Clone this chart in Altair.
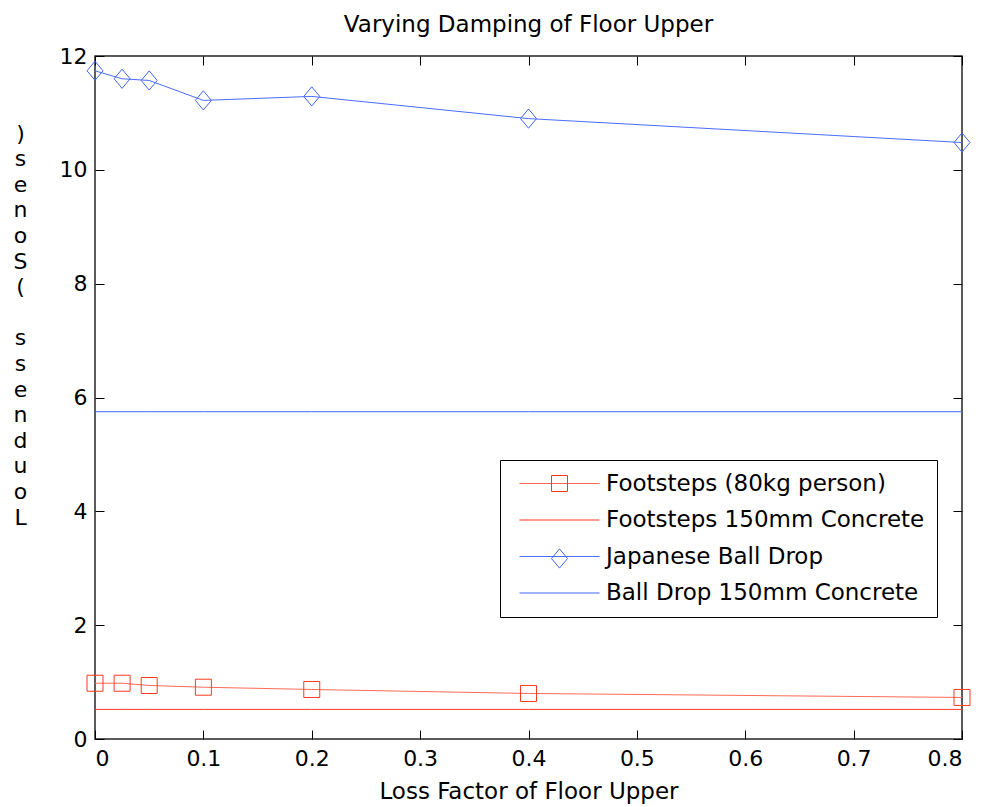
import altair as alt
import pandas as pd

# ---- data ----
loss_factor = [0, 0.025, 0.05, 0.1, 0.2, 0.4, 0.8]
footsteps_80kg = [0.98, 0.98, 0.94, 0.91, 0.87, 0.80, 0.73]
footsteps_concrete = [0.52, 0.52, 0.52, 0.52, 0.52, 0.52, 0.52]
japanese_ball = [11.74, 11.60, 11.57, 11.22, 11.29, 10.90, 10.48]
ball_concrete = [5.75, 5.75, 5.75, 5.75, 5.75, 5.75, 5.75]

series_names = [
    "Footsteps (80kg person)",
    "Footsteps 150mm Concrete",
    "Japanese Ball Drop",
    "Ball Drop 150mm Concrete",
]
series_values = [footsteps_80kg, footsteps_concrete, japanese_ball, ball_concrete]
line_colors = ["#ff6a55", "#ff3a1c", "#4a6cff", "#4064ff"]
square_colors = ["#ff3a1c", "transparent", "transparent", "transparent"]
diamond_colors = ["transparent", "transparent", "#4064ff", "transparent"]
x_ticks = [0, 0.1, 0.2, 0.3, 0.4, 0.5, 0.6, 0.7, 0.8]
y_ticks = [0, 2, 4, 6, 8, 10, 12]
y_title_chars = [c if c != " " else "\u200b" for c in reversed("Loudness (Sones)")]

FONT = "DejaVu Sans"
LINE_PATH = "M-5,0H5"
SQUARE_PATH = "M-1,-1H1V1H-1Z"
DIAMOND_PATH = "M0,-1.2L1,0L0,1.2L-1,0Z"

rows = []
for name, vals in zip(series_names, series_values):
    for xv, yv in zip(loss_factor, vals):
        rows.append({"series": name, "x": xv, "y": yv})
df = pd.DataFrame(rows)

xscale = alt.Scale(domain=[0, 0.8], nice=False, zero=False)
yscale = alt.Scale(domain=[0, 12], nice=False, zero=False)


def legend(symbol, visible_labels, z):
    return alt.Legend(
        orient="none", legendX=405, legendY=404, title=None, padding=12,
        fillColor="white" if visible_labels else "transparent",
        strokeColor="black" if visible_labels else "transparent",
        labelFont=FONT, labelFontSize=23, labelColor="black", labelLimit=600,
        labelOpacity=1 if visible_labels else 0,
        symbolType=symbol, symbolSize=256, symbolStrokeWidth=1,
        symbolFillColor="transparent", symbolOpacity=1,
        symbolOffset=36, labelOffset=35, rowPadding=12.5, zindex=z,
    )


# axis-only layers (no marks drawn: data filtered out, scales have fixed domains)
axes_main = alt.Chart(df).transform_filter("false").mark_line().encode(
    x=alt.X("x:Q", scale=xscale, axis=alt.Axis(
        orient="bottom", offset=-9, tickSize=9, domain=False, grid=False,
        values=x_ticks, format=".1~f", labelFont=FONT, labelFontSize=22,
        labelColor="black", labelPadding=9, tickColor="black",
        title="Loss Factor of Floor Upper", titleFont=FONT, titleFontSize=23,
        titleFontWeight="normal", titleColor="black", titleBaseline="top",
        titleY=50)),
    y=alt.Y("y:Q", scale=yscale, axis=alt.Axis(
        orient="left", offset=-9, tickSize=9, domain=False, grid=False,
        values=y_ticks, labelFont=FONT, labelFontSize=22, labelColor="black",
        labelPadding=8, tickColor="black",
        title=y_title_chars, titleAngle=0, titleX=-84, titleY=67,
        titleBaseline="top", titleAlign="center", titleLineHeight=25.6,
        titleFont=FONT, titleFontSize=22, titleFontWeight="normal",
        titleColor="black")),
)

axes_mirror = alt.Chart(df).transform_filter("false").mark_line().encode(
    x=alt.X("x:Q", scale=xscale, axis=alt.Axis(
        orient="top", offset=-9, tickSize=9, domain=False, grid=False,
        values=x_ticks, labels=False, title=None, tickColor="black")),
    y=alt.Y("y:Q", scale=yscale, axis=alt.Axis(
        orient="right", offset=-9, tickSize=9, domain=False, grid=False,
        values=y_ticks, labels=False, title=None, tickColor="black")),
)

lines = alt.Chart(df).mark_line(strokeWidth=1).encode(
    x=alt.X("x:Q", scale=xscale, axis=None),
    y=alt.Y("y:Q", scale=yscale, axis=None),
    color=alt.Color("series:N", scale=alt.Scale(domain=series_names, range=line_colors),
                    legend=legend(LINE_PATH, True, 1)),
    detail="series:N",
    order="x:Q",
)

squares = alt.Chart(df).transform_filter(
    alt.datum.series == series_names[0]
).mark_point(filled=False, shape=SQUARE_PATH, size=256, strokeWidth=1, opacity=1).encode(
    x=alt.X("x:Q", scale=xscale, axis=None),
    y=alt.Y("y:Q", scale=yscale, axis=None),
    color=alt.Color("series:N", scale=alt.Scale(domain=series_names, range=square_colors),
                    legend=legend(SQUARE_PATH, False, 2)),
)

diamonds = alt.Chart(df).transform_filter(
    alt.datum.series == series_names[2]
).mark_point(filled=False, shape=DIAMOND_PATH, size=256, strokeWidth=1, opacity=1).encode(
    x=alt.X("x:Q", scale=xscale, axis=None),
    y=alt.Y("y:Q", scale=yscale, axis=None),
    color=alt.Color("series:N", scale=alt.Scale(domain=series_names, range=diamond_colors),
                    legend=legend(DIAMOND_PATH, False, 2)),
)

chart = alt.layer(axes_main, axes_mirror, lines, squares, diamonds).resolve_axis(
    x="independent", y="independent"
).resolve_scale(color="independent").properties(
    width=867, height=683,
    autosize=alt.AutoSizeParams(type="none"),
    padding={"left": 95, "top": 56, "right": 20, "bottom": 68},
    title=alt.TitleParams("Varying Damping of Floor Upper", font=FONT,
                          fontSize=23, fontWeight="normal", color="black",
                          anchor="middle", baseline="alphabetic", offset=25,
                          dy=35, frame="group"),
    background="white",
).configure_view(stroke="#262626", strokeWidth=1.5)

chart.save("out.html", embed_options={"renderer": "svg", "actions": False})
